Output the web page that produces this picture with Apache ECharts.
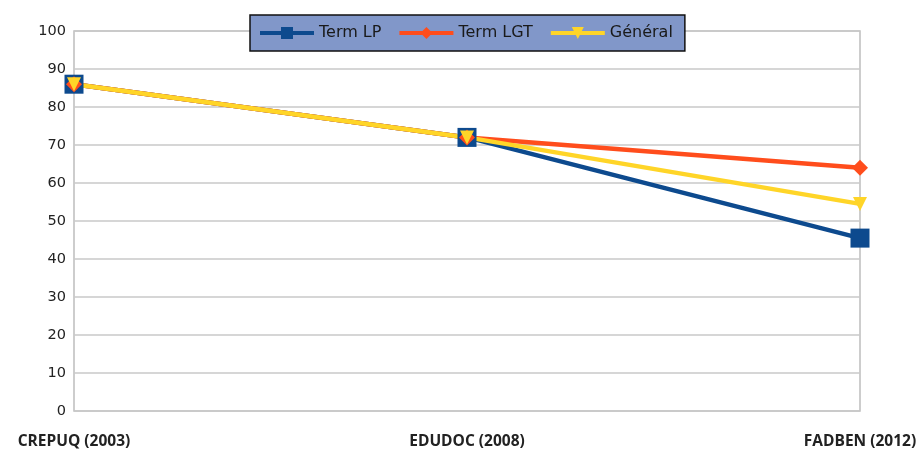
<!DOCTYPE html>
<html><head><meta charset="utf-8">
<script src="https://cdn.jsdelivr.net/npm/echarts@6/dist/echarts.min.js"></script>
<style>html,body{margin:0;padding:0;background:#fff}#c{width:923px;height:450px}</style>
</head><body><div id="c"></div>
<script>
const categories = ['CREPUQ (2003)', 'EDUDOC (2008)', 'FADBEN (2012)'];
const termLP = [86, 72, 45.5];
const termLGT = [86, 72, 64];
const general = [86, 72, 54.5];
const yTicks = [0, 10, 20, 30, 40, 50, 60, 70, 80, 90, 100];

const chart = echarts.init(document.getElementById('c'));
chart.setOption({
  animation: false,
  legend: {
    top: 15, left: 250,
    backgroundColor: '#8197c9', borderColor: '#111', borderWidth: 1.5,
    padding: [10, 12, 10, 8], itemGap: 16, itemWidth: 54, itemHeight: 15,
    textStyle: { fontFamily: 'DejaVu Sans', fontSize: 16, color: '#1a1a1a' },
    lineStyle: { width: 4 },
    data: ['Term LP', 'Term LGT', 'Général']
  },
  grid: { left: 74, right: 63, top: 31, bottom: 39, show: true, borderColor: '#bdbdbd', borderWidth: 1.5 },
  xAxis: {
    type: 'category', data: categories, boundaryGap: false,
    axisLine: { show: false }, axisTick: { show: false },
    axisLabel: { margin: 23, fontFamily: 'Open Sans', fontWeight: 'bold', fontSize: 15.5, color: '#222' }
  },
  yAxis: {
    type: 'value', min: yTicks[0], max: yTicks[yTicks.length - 1], interval: 10,
    axisLine: { show: false }, axisTick: { show: false },
    splitLine: { lineStyle: { color: '#c8c8c8', width: 1.5 } },
    axisLabel: { margin: 8, fontFamily: 'DejaVu Sans', fontSize: 14.5, color: '#222' }
  },
  series: [
    { name: 'Term LP', type: 'line', data: termLP, symbol: 'rect', symbolSize: 19,
      lineStyle: { color: '#0d4a8e', width: 4.5 }, itemStyle: { color: '#0d4a8e' } },
    { name: 'Term LGT', type: 'line', data: termLGT, symbol: 'diamond', symbolSize: 16,
      lineStyle: { color: '#ff4d1c', width: 4.5 }, itemStyle: { color: '#ff4d1c' } },
    { name: 'Général', type: 'line', data: general, symbol: 'triangle', symbolRotate: 180, symbolSize: 14,
      lineStyle: { color: '#ffd528', width: 4.5 }, itemStyle: { color: '#ffd528' } }
  ]
});
</script></body></html>
